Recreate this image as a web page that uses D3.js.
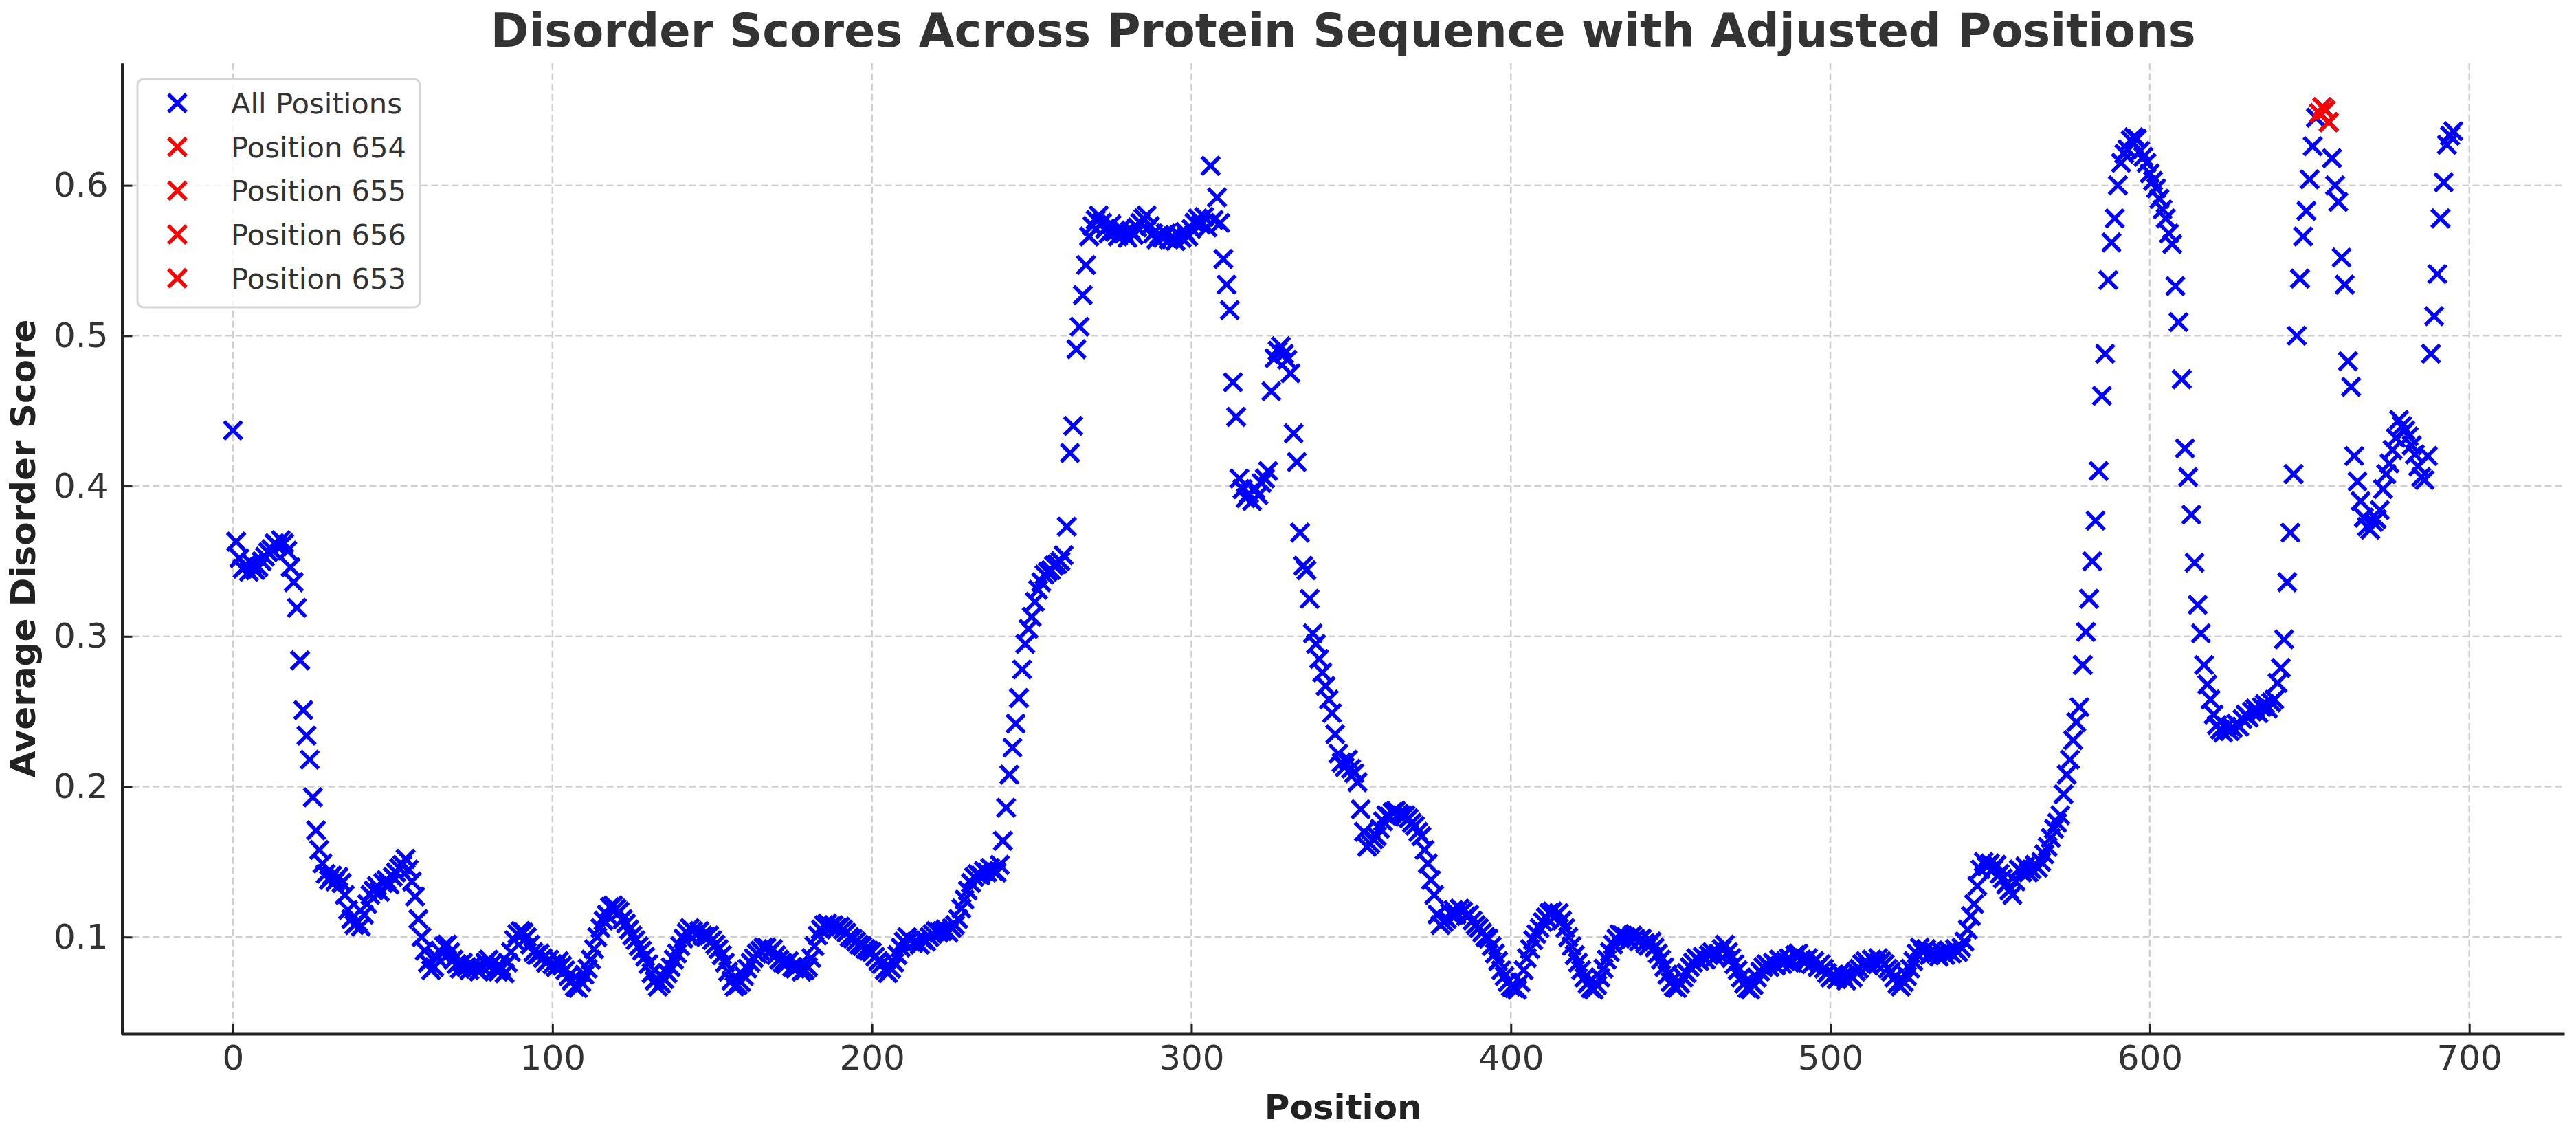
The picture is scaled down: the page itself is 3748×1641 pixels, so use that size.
<!DOCTYPE html>
<html><head><meta charset="utf-8">
<script src="https://cdn.jsdelivr.net/npm/d3@7"></script>
<style>html,body{margin:0;padding:0;background:#fff;} svg{display:block;}</style>
</head><body>
<script>
// ---- data (index = position) ----
const scores = [
0.437,0.363,0.352,0.345,0.347,0.343,0.348,0.344,0.346,0.350,
0.353,0.356,0.358,0.362,0.360,0.364,0.362,0.357,0.346,0.336,
0.319,0.284,0.251,0.234,0.218,0.193,0.171,0.158,0.149,0.142,
0.138,0.141,0.137,0.140,0.136,0.128,0.118,0.112,0.108,0.110,
0.107,0.115,0.122,0.128,0.131,0.134,0.130,0.136,0.138,0.135,
0.140,0.143,0.146,0.148,0.152,0.145,0.137,0.127,0.112,0.100,
0.091,0.083,0.078,0.080,0.086,0.090,0.094,0.095,0.090,0.085,
0.082,0.079,0.083,0.080,0.078,0.081,0.079,0.077,0.080,0.083,
0.085,0.082,0.079,0.077,0.080,0.076,0.083,0.090,0.098,0.102,
0.104,0.103,0.100,0.095,0.090,0.088,0.089,0.086,0.083,0.085,
0.082,0.080,0.084,0.081,0.078,0.074,0.071,0.067,0.066,0.070,
0.075,0.079,0.085,0.092,0.100,0.106,0.111,0.115,0.120,0.121,
0.119,0.117,0.112,0.109,0.105,0.101,0.098,0.094,0.091,0.087,
0.082,0.076,0.071,0.067,0.069,0.072,0.076,0.080,0.085,0.089,
0.094,0.099,0.103,0.106,0.104,0.102,0.104,0.101,0.100,0.101,
0.098,0.095,0.092,0.088,0.083,0.077,0.071,0.067,0.068,0.070,
0.074,0.079,0.083,0.086,0.089,0.091,0.093,0.093,0.090,0.092,
0.088,0.085,0.083,0.082,0.084,0.080,0.079,0.081,0.077,0.078,
0.080,0.086,0.094,0.101,0.105,0.108,0.109,0.107,0.108,0.106,
0.107,0.105,0.103,0.100,0.099,0.097,0.095,0.094,0.092,0.091,
0.090,0.087,0.084,0.082,0.078,0.076,0.079,0.083,0.088,0.093,
0.097,0.100,0.098,0.096,0.097,0.095,0.098,0.097,0.100,0.102,
0.104,0.103,0.104,0.105,0.103,0.106,0.108,0.112,0.119,0.125,
0.131,0.136,0.140,0.142,0.141,0.144,0.143,0.146,0.144,0.143,
0.148,0.164,0.186,0.208,0.226,0.242,0.259,0.278,0.295,0.305,
0.313,0.323,0.331,0.336,0.341,0.343,0.344,0.347,0.348,0.350,
0.354,0.373,0.422,0.440,0.491,0.506,0.527,0.547,0.566,0.573,
0.577,0.580,0.575,0.571,0.568,0.574,0.569,0.566,0.571,0.568,
0.565,0.570,0.567,0.572,0.575,0.578,0.580,0.573,0.568,0.564,
0.567,0.565,0.568,0.564,0.566,0.563,0.567,0.565,0.569,0.566,
0.571,0.575,0.578,0.574,0.579,0.572,0.613,0.577,0.592,0.575,
0.551,0.534,0.517,0.469,0.446,0.405,0.398,0.392,0.395,0.390,
0.398,0.394,0.402,0.405,0.410,0.463,0.485,0.490,0.493,0.488,
0.484,0.475,0.435,0.416,0.369,0.347,0.344,0.325,0.302,0.295,
0.285,0.276,0.267,0.258,0.249,0.235,0.222,0.216,0.213,0.218,
0.212,0.209,0.203,0.185,0.170,0.160,0.162,0.165,0.167,0.172,
0.177,0.181,0.180,0.183,0.184,0.182,0.181,0.181,0.179,0.176,
0.174,0.170,0.167,0.158,0.149,0.138,0.128,0.115,0.108,0.110,
0.112,0.116,0.118,0.115,0.119,0.117,0.114,0.115,0.111,0.108,
0.106,0.103,0.100,0.099,0.094,0.089,0.084,0.078,0.074,0.070,
0.067,0.066,0.065,0.070,0.078,0.086,0.092,0.098,0.102,0.106,
0.110,0.113,0.116,0.117,0.114,0.116,0.111,0.106,0.100,0.094,
0.088,0.083,0.078,0.073,0.069,0.066,0.065,0.068,0.073,0.079,
0.085,0.090,0.095,0.099,0.102,0.101,0.100,0.098,0.101,0.099,
0.097,0.099,0.096,0.094,0.097,0.093,0.089,0.085,0.080,0.075,
0.070,0.067,0.066,0.069,0.073,0.076,0.080,0.083,0.086,0.084,
0.087,0.085,0.088,0.090,0.087,0.089,0.092,0.095,0.090,0.086,
0.082,0.078,0.073,0.069,0.066,0.065,0.068,0.073,0.077,0.080,
0.082,0.080,0.083,0.081,0.085,0.082,0.084,0.086,0.083,0.088,
0.089,0.085,0.083,0.086,0.082,0.084,0.080,0.082,0.079,0.076,
0.073,0.075,0.072,0.076,0.074,0.071,0.075,0.073,0.077,0.079,
0.082,0.084,0.081,0.085,0.083,0.086,0.084,0.082,0.079,0.077,
0.073,0.069,0.067,0.070,0.074,0.079,0.084,0.089,0.093,0.090,
0.092,0.088,0.091,0.089,0.087,0.090,0.088,0.091,0.089,0.092,
0.090,0.093,0.097,0.105,0.114,0.122,0.134,0.145,0.150,0.147,
0.149,0.145,0.148,0.142,0.139,0.135,0.131,0.128,0.137,0.145,
0.143,0.147,0.143,0.145,0.148,0.146,0.150,0.155,0.160,0.166,
0.172,0.176,0.181,0.195,0.208,0.218,0.231,0.243,0.253,0.281,
0.303,0.325,0.350,0.377,0.410,0.460,0.488,0.537,0.562,0.578,
0.600,0.615,0.621,0.624,0.630,0.632,0.631,0.623,0.619,0.615,
0.608,0.603,0.598,0.591,0.584,0.578,0.568,0.561,0.533,0.509,
0.471,0.425,0.406,0.381,0.349,0.321,0.302,0.281,0.268,0.258,
0.248,0.241,0.238,0.236,0.240,0.237,0.239,0.242,0.240,0.245,
0.248,0.246,0.250,0.252,0.249,0.253,0.255,0.252,0.256,0.258,
0.269,0.279,0.298,0.336,0.369,0.408,0.500,0.538,0.566,0.583,
0.604,0.626,0.645,0.648,0.652,0.650,0.642,0.618,0.600,0.589,
0.552,0.534,0.483,0.466,0.420,0.403,0.390,0.379,0.373,0.371,
0.376,0.378,0.384,0.398,0.408,0.415,0.424,0.432,0.444,0.440,
0.437,0.433,0.427,0.421,0.413,0.406,0.404,0.420,0.488,0.513,
0.541,0.578,0.602,0.627,0.633,0.636
];
const highlightPositions = [654, 655, 656, 653];
const xTickValues = [0, 100, 200, 300, 400, 500, 600, 700];
const yTickValues = [0.1, 0.2, 0.3, 0.4, 0.5, 0.6];
const titleText = "Disorder Scores Across Protein Sequence with Adjusted Positions";
const xLabelText = "Position";
const yLabelText = "Average Disorder Score";
const allLabel = "All Positions";

// ---- layout ----
const W = 3748, H = 1641;
const M = {left: 177.5, right: 3731, top: 91.7, bottom: 1504};
const FONT = "'DejaVu Sans', sans-serif";
const TXT = "#333333";

const positions = scores.map((d, i) => i);
const xMin = d3.min(positions), xMax = d3.max(positions);
const yMin = d3.min(scores), yMax = d3.max(scores);
const xPad = (xMax - xMin) * 0.05, yPad = (yMax - yMin) * 0.05;

const x = d3.scaleLinear().domain([xMin - xPad, xMax + xPad]).range([M.left, M.right]);
const y = d3.scaleLinear().domain([yMin - yPad, yMax + yPad]).range([M.bottom, M.top]);

const svg = d3.select("body").append("svg")
  .attr("width", W).attr("height", H)
  .attr("viewBox", `0 0 ${W} ${H}`)
  .style("font-family", FONT);

svg.append("rect").attr("width", W).attr("height", H).attr("fill", "#fff");

// grid
const grid = svg.append("g");
grid.selectAll("line.gx").data(xTickValues).join("line")
  .attr("x1", d => x(d)).attr("x2", d => x(d))
  .attr("y1", M.top).attr("y2", M.bottom)
  .attr("stroke", "#cfcfcf").attr("stroke-width", 2.5).attr("stroke-dasharray", "10 5");
grid.selectAll("line.gy").data(yTickValues).join("line")
  .attr("x1", M.left).attr("x2", M.right)
  .attr("y1", d => y(d)).attr("y2", d => y(d))
  .attr("stroke", "#cfcfcf").attr("stroke-width", 2.5).attr("stroke-dasharray", "10 5");

// markers
const xMark = "M-13,-13L13,13M-13,13L13,-13";
svg.append("g").selectAll("path").data(positions).join("path")
  .attr("d", xMark)
  .attr("transform", i => `translate(${x(i)},${y(scores[i])})`)
  .attr("fill", "none").attr("stroke", "#0000ff").attr("stroke-width", 5.5);

svg.append("g").selectAll("path").data(highlightPositions).join("path")
  .attr("d", xMark)
  .attr("transform", p => `translate(${x(p)},${y(scores[p])})`)
  .attr("fill", "none").attr("stroke", "#ff0000").attr("stroke-width", 5.5);

// axes
const xAxis = d3.axisBottom(x).tickValues(xTickValues).tickFormat(d3.format("d"))
  .tickSizeInner(-15).tickSizeOuter(0).tickPadding(16);
const yAxis = d3.axisLeft(y).tickValues(yTickValues).tickFormat(d3.format(".1f"))
  .tickSizeInner(-15).tickSizeOuter(0).tickPadding(20);

const gx = svg.append("g").attr("transform", `translate(0,${M.bottom})`).call(xAxis);
const gy = svg.append("g").attr("transform", `translate(${M.left},0)`).call(yAxis);
[gx, gy].forEach(g => {
  g.select(".domain").attr("stroke", "#222").attr("stroke-width", 4);
  g.selectAll(".tick line").attr("stroke", "#222").attr("stroke-width", 3);
  g.selectAll(".tick text").attr("fill", TXT).style("font-size", "50px").style("font-family", FONT);
});

// labels
svg.append("text").attr("x", (M.left + M.right) / 2).attr("y", 68)
  .attr("text-anchor", "middle").attr("fill", TXT)
  .style("font-size", "67px").style("font-weight", "bold").text(titleText);
svg.append("text").attr("x", (M.left + M.right) / 2).attr("y", 1628)
  .attr("text-anchor", "middle").attr("fill", "#222")
  .style("font-size", "50px").style("font-weight", "bold").text(xLabelText);
svg.append("text").attr("transform", `translate(34,${(M.top + M.bottom) / 2}) rotate(-90)`)
  .attr("text-anchor", "middle").attr("dominant-baseline", "central").attr("fill", "#222")
  .style("font-size", "50px").style("font-weight", "bold").text(yLabelText);

// legend
const legendItems = [{label: allLabel, color: "#0000ff"}]
  .concat(highlightPositions.map(p => ({label: `Position ${p}`, color: "#ff0000"})));
const lg = svg.append("g");
lg.append("rect").attr("x", 200).attr("y", 115).attr("width", 411).attr("height", 332)
  .attr("rx", 9).attr("fill", "#fff").attr("fill-opacity", 0.8)
  .attr("stroke", "#d6d6d6").attr("stroke-width", 3);
const rows = lg.selectAll("g.row").data(legendItems).join("g")
  .attr("transform", (d, i) => `translate(0,${150 + i * 63.7})`);
rows.append("path").attr("d", xMark).attr("transform", "translate(258,0)")
  .attr("fill", "none").attr("stroke", d => d.color).attr("stroke-width", 5.5);
rows.append("text").attr("x", 336).attr("dy", "0.36em").attr("fill", TXT)
  .style("font-size", "41.7px").text(d => d.label);
</script>
</body></html>
